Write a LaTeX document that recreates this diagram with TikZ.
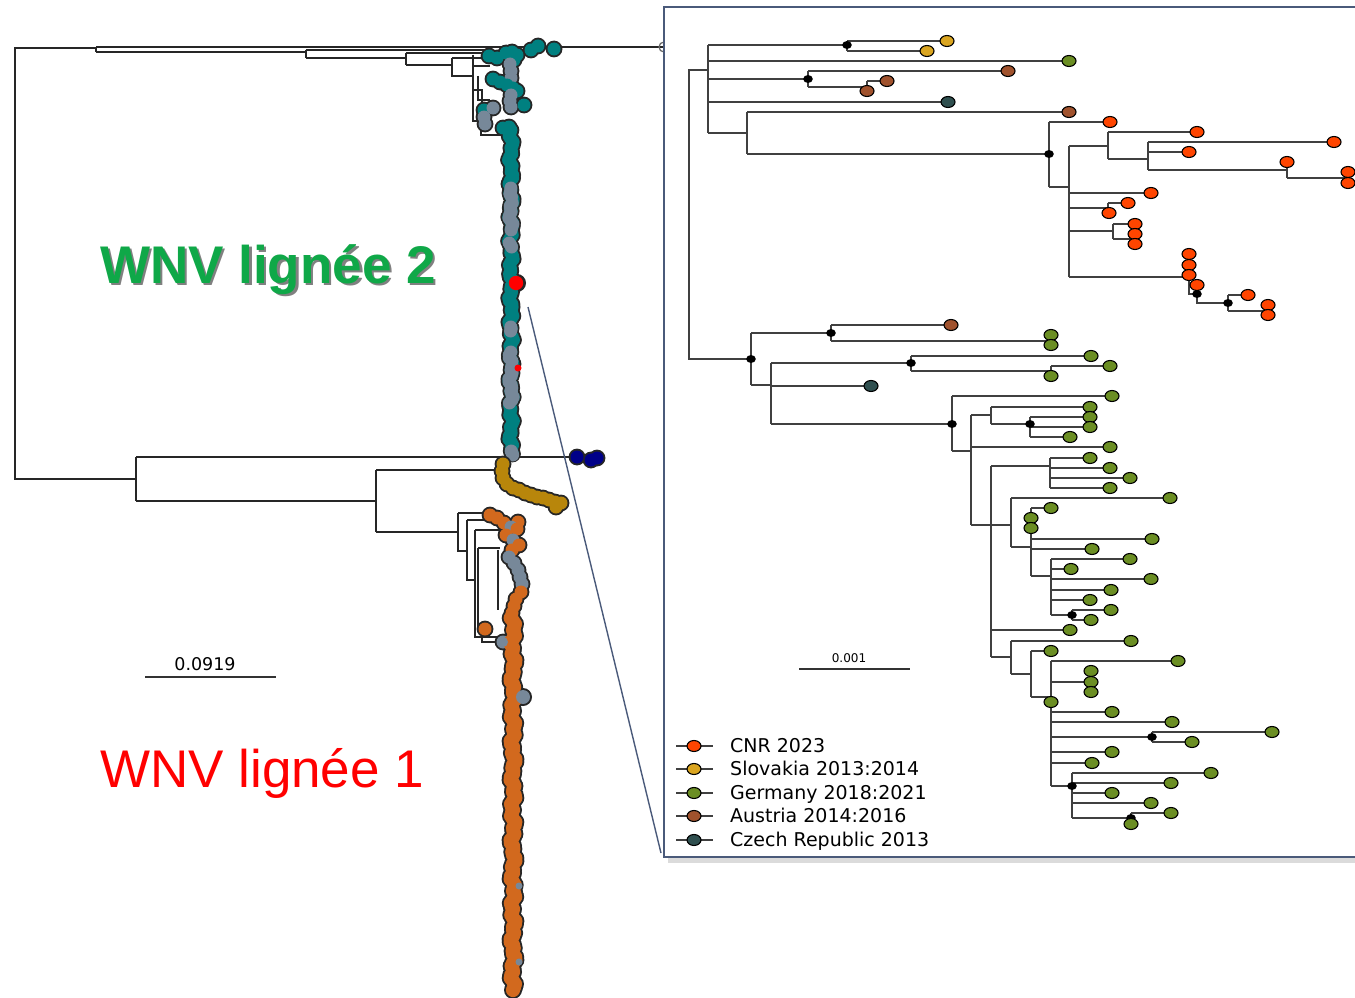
\documentclass[tikz,border=0pt]{standalone}
\usepackage{fontspec}
\setmainfont{Liberation Sans}
\newfontfamily\dvs{DejaVu Sans}
\definecolor{wteal}{HTML}{008080}
\definecolor{wgray}{HTML}{778899}
\definecolor{worange}{HTML}{D2691E}
\definecolor{wgold}{HTML}{B8860B}
\definecolor{wnavy}{HTML}{000088}
\definecolor{cnr}{HTML}{FF4500}
\definecolor{svk}{HTML}{DAA520}
\definecolor{ger}{HTML}{6B8E23}
\definecolor{aut}{HTML}{A0522D}
\definecolor{cze}{HTML}{2F4F4F}
\definecolor{slate}{HTML}{4A5A7A}
\definecolor{titlegreen}{HTML}{0FA848}
\newcommand\blobout[1]{\foreach \x/\y/\col in #1{\fill[black!85] (\x,\y) circle[radius=8.4pt];}}
\newcommand\blobin[1]{\foreach \x/\y/\col in #1{\fill[\col] (\x,\y) circle[radius=6.5pt];}}
\newcommand\tealx[1]{\pgfmathsetmacro\cx{511+1.3*sin(mod(#1,360)*13)+1.2*sin(mod(#1,360)*31)}}
\newcommand\orx[1]{\pgfmathsetmacro\cx{513+1.4*sin(mod(#1,360)*11)+1.4*sin(mod(#1,360)*29)}}
\newcommand\tealseg[4]{\foreach \y in {#1,#2,...,#3}{\tealx{\y}\fill[#4] (\cx,\y) circle[radius=6.5pt];}}
\newcommand\tipmark[3]{\filldraw[fill=#3,draw=black,line width=1.1pt] (#1,#2) ellipse[x radius=7pt,y radius=5.5pt];}
\newcommand\bdot[2]{\fill[black] (#1,#2) ellipse[x radius=4.8pt,y radius=4pt];}
\begin{document}
\begin{tikzpicture}[x=1pt,y=-1pt,
  tl/.style={draw=black!75,line width=1.2pt},
  bl/.style={draw=black!85,line width=1.3pt},
  leg/.style={anchor=base west,inner sep=0pt,font=\dvs\fontsize{19}{21}\selectfont}]
\useasboundingbox (0,0) rectangle (1355,998);
\fill[white] (0,0) rectangle (1355,998);

% ---------- big tree: lines ----------
\draw[bl] (96,48) -- (15,48) -- (15,479) -- (136,479);
\draw[bl] (96,47) -- (96,52) (96,47) -- (664,47) (96,52) -- (306,52);
\draw[bl] (306,50) -- (306,58) (306,50) -- (490,50) (306,58) -- (406,58);
\draw[bl] (406,53) -- (406,65) (406,53) -- (490,53) (406,65) -- (452,65);
\draw[bl] (452,58) -- (452,76) -- (473,76) (452,58) -- (490,58);
\draw[bl] (473,55) -- (473,121) -- (481,121) -- (481,135) -- (505,135);
\draw[bl] (473,66) -- (490,66) (478,76) -- (478,100) -- (490,100) (473,90) -- (482,90) -- (482,112);
\draw[bl] (136,457) -- (136,501) (136,457) -- (578,457) (136,501) -- (376,501);
\draw[bl] (376,470) -- (376,532) (376,470) -- (500,470) (376,532) -- (458,532);
\draw[bl] (458,513) -- (458,551) -- (467,551) (458,513) -- (486,513);
\draw[bl] (467,520) -- (467,580) -- (475,580) (467,520) -- (492,520);
\draw[bl] (475,530) -- (475,637) -- (500,637) (475,530) -- (500,530);
\draw[bl] (478,548) -- (478,625) -- (488,625) (478,548) -- (500,548);
\draw[bl] (482,630) -- (482,642) -- (505,642) (498,550) -- (498,610);

% connector to inset
\draw[black!60,line width=1.2pt] (664,47) circle[radius=5pt];

% ---------- teal clade ----------
\def\TT{531/50/wteal,538/46/wteal,554/49/wteal,489/56/wteal,497/58/wteal,506/53/wteal,512/52/wteal,517/55/wteal,514/60/wteal,510/64/wgray,511/71/wgray,511/78/wgray,493/79/wteal,500/82/wteal,507/85/wteal,513/88/wteal,517/91/wteal,511/95/wgray,510/101/wgray,511/107/wgray,524/105/wteal,484/110/wteal,493/108/wgray,484/117/wgray,485/124/wgray,503/128/wteal,509/127/wteal}
\blobout{\TT}
\foreach \y in {130,133,...,456}{\tealx{\y}\fill[black!85] (\cx,\y) circle[radius=8.4pt];}
\fill[black!85] (517,283) circle[radius=9pt];
\blobin{\TT}
\tealseg{130}{133}{456}{wteal}
\tealseg{188}{191}{197}{wgray}
\tealseg{203}{206}{230}{wgray}
\tealseg{243}{245}{247}{wgray}
\tealseg{327}{329}{331}{wgray}
\tealseg{352}{355}{361}{wgray}
\tealseg{367}{370}{403}{wgray}
\tealseg{451}{453}{456}{wgray}
\fill[red] (516,283) circle[radius=7.2pt];
\fill[red] (518,368) circle[radius=3.5pt];

% ---------- navy ----------
\def\NV{577/457/wnavy,591/460/wnavy,597/458/wnavy}
\blobout{\NV}\blobin{\NV}

% ---------- gold ----------
\def\GD{503/464/wgold,502/471/wgold,503/478/wgold,507/484/wgold,513/488/wgold,519/490/wgold,525/493/wgold,531/495/wgold,537/497/wgold,543/498/wgold,549/500/wgold,555/502/wgold,561/503/wgold,556/507/wgold}
\blobout{\GD}\blobin{\GD}

% ---------- orange clade ----------
\def\OT{490/515/worange,497/518/worange,504/523/worange,518/522/worange,511/527/wgray,517/529/worange,506/535/worange,513/540/wgray,519/545/worange,512/550/worange,509/557/wgray,514/563/wgray,518/570/wgray,520/577/wgray,522/584/wgray,521/592/worange,516/599/worange,514/606/worange,512/613/worange,485/629/worange,503/642/wgray}
\blobout{\OT}
\foreach \y in {618,621,...,990}{\orx{\y}\fill[black!85] (\cx,\y) circle[radius=9pt];}
\fill[black!85] (523,697) circle[radius=9pt];
\blobin{\OT}
\foreach \y in {618,621,...,990}{\orx{\y}\fill[worange] (\cx,\y) circle[radius=7.1pt];}
\fill[wgray] (523,697) circle[radius=7pt];
\fill[wgray] (503,642) circle[radius=5pt];
\fill[wgray] (519,886) circle[radius=3.5pt];
\fill[wgray] (519,962) circle[radius=3.5pt];

% scale bar left
\draw[black!80,line width=1.2pt] (145,677) -- (276,677);
\node[anchor=base,inner sep=0pt,font=\dvs\fontsize{17.5}{19}\selectfont] (sb1) at (205,670) {0.0919};

% titles
\node[anchor=base west,inner sep=0pt,text=black!50,font=\fontsize{53}{60}\selectfont\bfseries] at (102.5,285.5) {WNV lignée 2};
\node[anchor=base west,inner sep=0pt,text=titlegreen,font=\fontsize{53}{60}\selectfont\bfseries] (t2) at (100,283) {WNV lignée 2};
\node[anchor=base west,inner sep=0pt,text=red,font=\fontsize{53}{60}\selectfont] (t1) at (100,787) {WNV lignée 1};

% ---------- inset box ----------
\draw[slate,line width=1.4pt] (528,307) -- (661,853);
\fill[black!14] (668,11) rectangle (1370,863);
\filldraw[fill=white,draw=slate,line width=2.2pt] (664,7) rectangle (1375,857);

% inset tree lines
\draw[tl] (708,70) -- (689,70) -- (689,359) -- (751,359)
  (708,45) -- (708,133)
  (708,45) -- (847,45) (847,41) -- (847,51) (847,41) -- (947,41) (847,51) -- (927,51)
  (708,61) -- (1069,61)
  (708,79) -- (808,79) (808,71) -- (808,87) (808,71) -- (1008,71) (808,87) -- (867,87) (867,81) -- (867,91) (867,81) -- (887,81)
  (708,102) -- (948,102)
  (708,133) -- (747,133) (747,112) -- (747,154) (747,112) -- (1069,112) (747,154) -- (1049,154)
  (1049,122) -- (1049,187) (1049,122) -- (1110,122) (1049,187) -- (1069,187)
  (1069,146) -- (1069,277)
  (1069,146) -- (1108,146) (1108,132) -- (1108,159) (1108,132) -- (1197,132) (1108,159) -- (1148,159)
  (1148,142) -- (1148,170) (1148,142) -- (1334,142) (1148,152) -- (1189,152) (1148,170) -- (1287,170)
  (1287,162) -- (1287,178) (1287,178) -- (1348,178)
  (1069,193) -- (1151,193)
  (1069,208) -- (1108,208) (1108,203) -- (1108,213) (1108,203) -- (1128,203)
  (1069,231) -- (1113,231) (1113,224) -- (1113,239) (1113,224) -- (1135,224) (1113,239) -- (1135,239)
  (1069,277) -- (1189,277) (1189,277) -- (1189,294) -- (1197,294) (1197,285) -- (1197,303) -- (1228,303)
  (1228,295) -- (1228,311) (1228,295) -- (1248,295) (1228,311) -- (1268,311)
  (751,333) -- (751,385) (751,333) -- (831,333) (831,325) -- (831,341) (831,325) -- (951,325) (831,341) -- (1051,341)
  (751,385) -- (771,385) (771,363) -- (771,424)
  (771,363) -- (911,363) (911,356) -- (911,371) (911,356) -- (1091,356) (911,371) -- (1051,371) (1051,366) -- (1051,376) (1051,366) -- (1110,366)
  (771,386) -- (871,386)
  (771,424) -- (952,424)
  (952,396) -- (952,451) (952,396) -- (1112,396) (952,451) -- (971,451)
  (971,415) -- (971,525)
  (971,415) -- (991,415) (991,407) -- (991,424) (991,407) -- (1090,407) (991,424) -- (1030,424)
  (1030,417) -- (1030,437) (1030,417) -- (1090,417) (1030,427) -- (1090,427) (1030,437) -- (1070,437)
  (971,447) -- (1110,447)
  (971,525) -- (1011,525) (991,466) -- (991,657)
  (991,466) -- (1050,466) (1050,458) -- (1050,488) (1050,458) -- (1090,458) (1050,468) -- (1110,468) (1050,478) -- (1130,478) (1050,488) -- (1110,488)
  (1011,498) -- (1011,547) (1011,498) -- (1170,498) (1011,547) -- (1031,547)
  (1031,508) -- (1031,576) (1031,508) -- (1051,508) (1031,539) -- (1152,539) (1031,549) -- (1092,549) (1031,576) -- (1051,576)
  (1051,559) -- (1051,615) (1051,559) -- (1130,559) (1051,569) -- (1071,569) (1051,579) -- (1151,579) (1051,590) -- (1111,590) (1051,600) -- (1090,600) (1051,615) -- (1072,615)
  (1072,610) -- (1072,620) (1072,610) -- (1111,610) (1072,620) -- (1091,620)
  (991,630) -- (1070,630)
  (991,657) -- (1011,657) (1011,641) -- (1011,674) (1011,641) -- (1131,641) (1011,674) -- (1031,674)
  (1031,651) -- (1031,697) (1031,651) -- (1051,651) (1031,697) -- (1051,697)
  (1051,661) -- (1051,786) (1051,661) -- (1178,661) (1051,682) -- (1091,682) (1051,712) -- (1112,712) (1051,722) -- (1172,722)
  (1051,737) -- (1152,737) (1152,732) -- (1152,742) (1152,732) -- (1272,732) (1152,742) -- (1192,742)
  (1051,752) -- (1112,752) (1051,763) -- (1092,763) (1051,786) -- (1072,786)
  (1072,773) -- (1072,818) (1072,773) -- (1211,773) (1072,783) -- (1171,783) (1072,793) -- (1112,793) (1072,803) -- (1151,803) (1072,818) -- (1131,818)
  (1131,813) -- (1131,818) (1131,813) -- (1171,813);

% dots
\foreach \x/\y in {847/45,808/79,1049/154,1197/294,1228/303,751/359,831/333,911/363,952/424,1030/424,1072/615,1152/737,1072/786,1131/818}{\bdot{\x}{\y}}

% tips
\foreach \x/\y in {1110/122,1197/132,1334/142,1189/152,1287/162,1348/172,1348/183,1151/193,1128/203,1109/213,1135/224,1135/234,1135/244,1189/254,1189/265,1189/275,1197/285,1248/295,1268/305,1268/315}{\tipmark{\x}{\y}{cnr}}
\foreach \x/\y in {947/41,927/51}{\tipmark{\x}{\y}{svk}}
\foreach \x/\y in {1008/71,887/81,867/91,1069/112,951/325}{\tipmark{\x}{\y}{aut}}
\foreach \x/\y in {948/102,871/386}{\tipmark{\x}{\y}{cze}}
\foreach \x/\y in {1069/61,1051/335,1051/345,1091/356,1110/366,1051/376,1112/396,1090/407,1090/417,1090/427,1070/437,1110/447,1090/458,1110/468,1130/478,1110/488,1170/498,1051/508,1031/518,1031/528,1152/539,1092/549,1130/559,1071/569,1151/579,1111/590,1090/600,1111/610,1091/620,1070/630,1131/641,1051/651,1178/661,1091/671,1091/682,1091/692,1051/702,1112/712,1172/722,1272/732,1192/742,1112/752,1092/763,1211/773,1171/783,1112/793,1151/803,1171/813,1131/824}{\tipmark{\x}{\y}{ger}}

% inset scale bar
\draw[black!80,line width=1.1pt] (799,669) -- (910,669);
\node[anchor=base,inner sep=0pt,font=\dvs\fontsize{12}{14}\selectfont] (sb2) at (849,662) {0.001};

% legend
\foreach \y/\col/\lab/\nm in {746/cnr/CNR 2023/la,769/svk/Slovakia 2013:2014/lb,793/ger/Germany 2018:2021/lc,816/aut/Austria 2014:2016/ld,840/cze/Czech Republic 2013/le}{
  \draw[black!75,line width=1.2pt] (676,\y) -- (713,\y);
  \tipmark{694}{\y}{\col}
  \node[leg] (\nm) at (730,\y+6.5) {\lab};
}
\end{tikzpicture}
\end{document}
